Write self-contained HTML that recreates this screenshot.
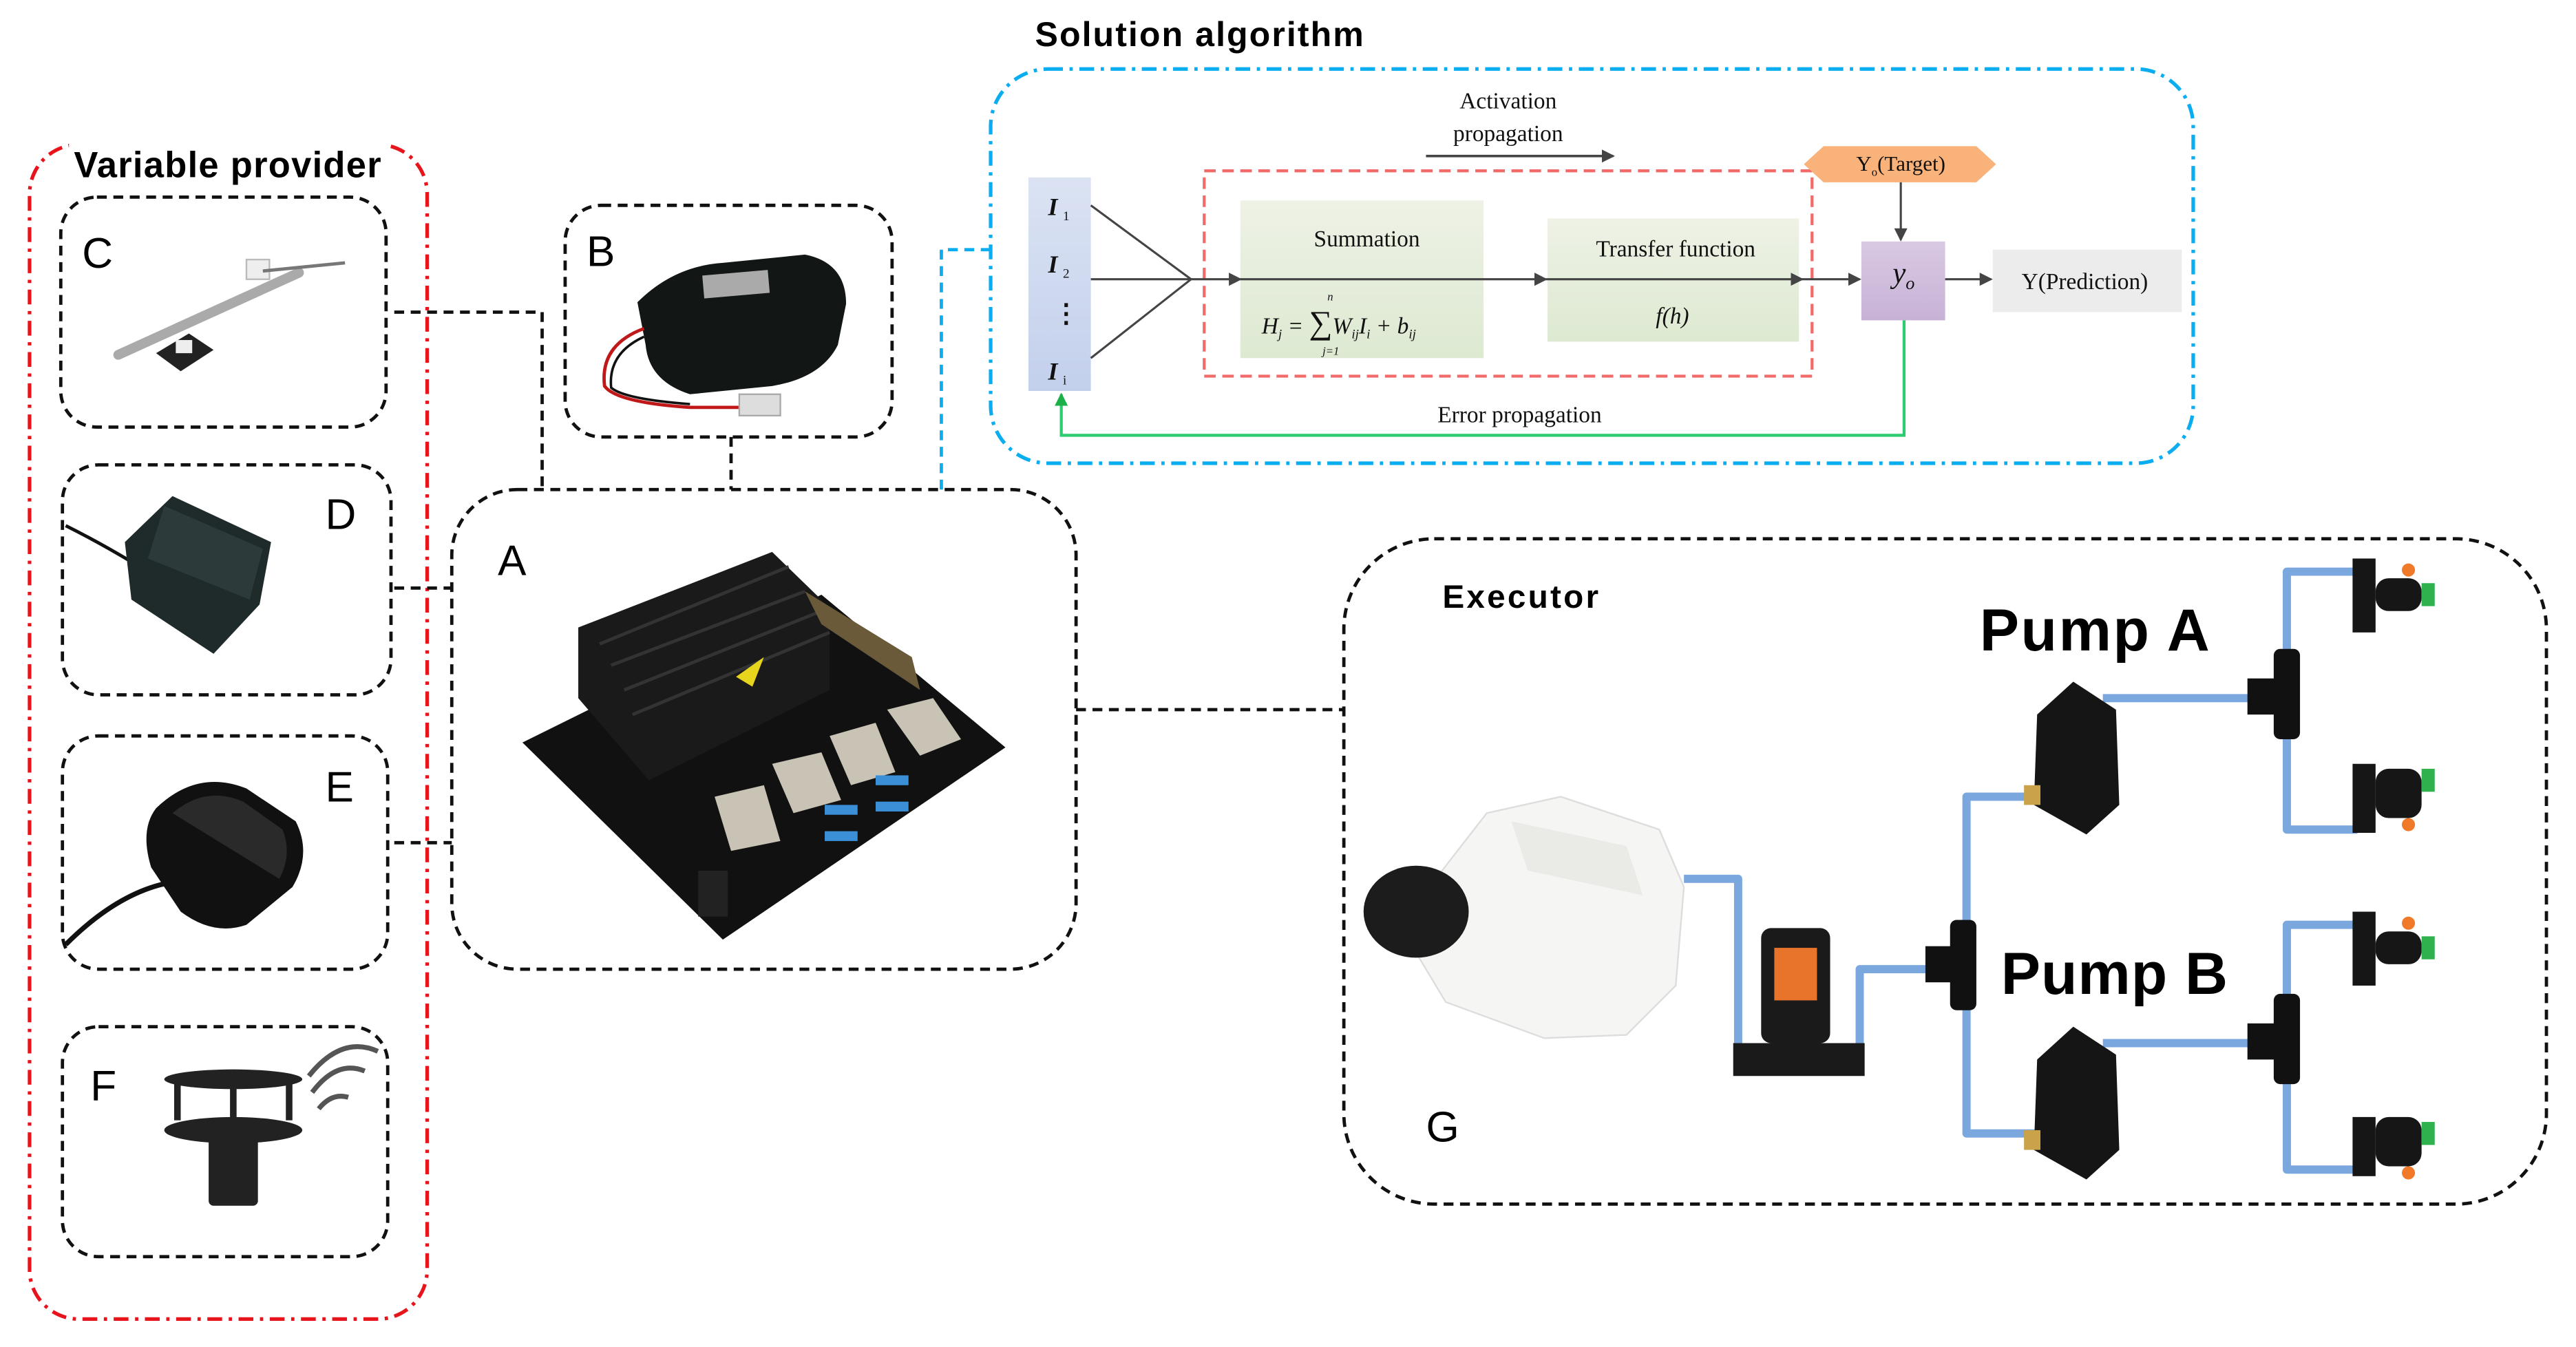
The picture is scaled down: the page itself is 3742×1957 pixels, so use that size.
<!DOCTYPE html>
<html><head><meta charset="utf-8"><style>
html,body{margin:0;padding:0;background:#fff;}
svg{display:block;}
</style></head><body>
<svg width="3742" height="1957" viewBox="0 0 1568 820" preserveAspectRatio="none" xmlns="http://www.w3.org/2000/svg" font-family="Liberation Sans, sans-serif">
<defs>
<marker id="ar" markerWidth="8" markerHeight="8" refX="7" refY="4" orient="auto" markerUnits="userSpaceOnUse"><path d="M0,0 L8,4 L0,8 z" fill="#444"/></marker>
<marker id="ag" markerWidth="8" markerHeight="8" refX="7" refY="4" orient="auto" markerUnits="userSpaceOnUse"><path d="M0,0 L8,4 L0,8 z" fill="#1cb04a"/></marker>
<linearGradient id="gb" x1="0" y1="0" x2="0" y2="1"><stop offset="0" stop-color="#dbe3f3"/><stop offset="1" stop-color="#c3d0ec"/></linearGradient>
<linearGradient id="gg" x1="0" y1="0" x2="0" y2="1"><stop offset="0" stop-color="#eef2e6"/><stop offset="1" stop-color="#dde9d1"/></linearGradient>
<linearGradient id="gp" x1="0" y1="0" x2="0" y2="1"><stop offset="0" stop-color="#d9c9e3"/><stop offset="1" stop-color="#c7b2d6"/></linearGradient>
</defs>

<!-- Variable provider -->
<rect x="18" y="88" width="242" height="715" rx="30" fill="none" stroke="#e8141c" stroke-width="2.2" stroke-dasharray="9,4,2,4"/>
<rect x="42" y="86" width="194" height="24" fill="#fff"/>
<text x="45" y="108" font-size="22" font-weight="bold" textLength="187">Variable provider</text>

<g fill="none" stroke="#111" stroke-width="2" stroke-dasharray="6,4">
<rect x="37" y="120" width="198" height="140" rx="22"/>
<rect x="38" y="283" width="200" height="140" rx="22"/>
<rect x="38" y="448" width="198" height="142" rx="22"/>
<rect x="38" y="625" width="198" height="140" rx="22"/>
<rect x="344" y="125" width="199" height="141" rx="22"/>
<rect x="275" y="298" width="380" height="292" rx="40"/>
<rect x="818" y="328" width="732" height="405" rx="55"/>
<path d="M240,190 H330 V298"/>
<path d="M240,358 H275"/>
<path d="M240,513 H275"/>
<path d="M445,266 V298"/>
<path d="M655,432 H818"/>
</g>
<path d="M573,298 V152 H603" fill="none" stroke="#0aaef0" stroke-width="2" stroke-dasharray="6,4"/>

<g font-size="26" fill="#000">
<text x="50" y="163">C</text>
<text x="198" y="322">D</text>
<text x="198" y="488">E</text>
<text x="55" y="670">F</text>
<text x="357" y="162">B</text>
<text x="303" y="350">A</text>
<text x="868" y="695">G</text>
</g>

<!-- C sensor -->
<g>
<path d="M72,216 L182,166" stroke="#aaa" stroke-width="6" stroke-linecap="round"/>
<rect x="150" y="158" width="14" height="12" fill="#eee" stroke="#bbb"/>
<path d="M160,165 L210,160" stroke="#777" stroke-width="2"/>
<path d="M95,215 L115,203 L130,213 L110,226 z" fill="#222"/>
<rect x="107" y="207" width="10" height="8" fill="#eee"/>
</g>
<!-- D box -->
<path d="M40,320 Q60,330 80,342" stroke="#111" stroke-width="2" fill="none"/>
<path d="M76,330 L105,302 L165,330 L158,368 L130,398 L80,365 z" fill="#1f2a2a"/>
<path d="M100,308 L160,334 L152,365 L90,340 z" fill="#2c3a3a"/>
<!-- E gps -->
<path d="M40,575 Q70,545 100,538" stroke="#111" stroke-width="3" fill="none"/>
<path d="M95,492 Q120,468 150,480 L180,500 Q190,520 178,540 L150,563 Q130,570 110,555 L92,528 Q85,505 95,492 z" fill="#111"/>
<path d="M105,495 Q125,478 148,488 L172,505 Q178,520 170,535 Z" fill="#2a2a2a"/>
<!-- F anemometer -->
<g fill="#222">
<ellipse cx="142" cy="657" rx="42" ry="6"/>
<rect x="106" y="657" width="4" height="25"/><rect x="174" y="657" width="4" height="25"/><rect x="140" y="657" width="4" height="25"/>
<ellipse cx="142" cy="688" rx="42" ry="8"/>
<rect x="127" y="690" width="30" height="44" rx="3"/>
</g>
<g fill="none" stroke="#555" stroke-width="3">
<path d="M194,675 Q202,665 212,668"/><path d="M190,665 Q205,645 222,652"/><path d="M188,655 Q208,630 230,640"/>
</g>
<!-- B battery -->
<path d="M388,184 Q410,162 440,160 L490,155 Q515,160 515,185 L510,210 Q500,230 470,235 L420,240 Q395,232 393,210 z" fill="#121614"/>
<rect x="428" y="166" width="40" height="14" fill="#aaa" transform="rotate(-5 448 173)"/>
<path d="M392,200 Q365,210 368,235 Q375,245 420,248 L455,248" fill="none" stroke="#c01818" stroke-width="2"/>
<path d="M392,205 Q370,215 372,236 Q380,243 420,246" fill="none" stroke="#111" stroke-width="1.5"/>
<rect x="450" y="240" width="25" height="13" fill="#ddd" stroke="#aaa"/>

<!-- A board -->
<path d="M318,452 L500,362 L612,455 L440,572 z" fill="#111"/>
<path d="M352,382 L470,336 L505,370 L505,420 L395,475 L352,425 z" fill="#1a1a1a"/>
<g stroke="#333" stroke-width="2"><path d="M365,392 L480,345"/><path d="M372,405 L490,360"/><path d="M380,420 L500,372"/><path d="M385,435 L505,385"/></g>
<path d="M448,412 L465,400 L458,418 z" fill="#e6d51c"/>
<path d="M490,360 L555,400 L560,420 L500,380 z" fill="#6a5a3a"/>
<g fill="#c9c3b5">
<path d="M540,432 L568,425 L585,450 L560,460 z"/>
<path d="M505,448 L533,440 L545,470 L518,478 z"/>
<path d="M470,465 L500,458 L512,487 L483,495 z"/>
<path d="M435,485 L465,478 L475,512 L445,518 z"/>
</g>
<g fill="#3a8fd6"><rect x="533" y="472" width="20" height="6"/><rect x="502" y="490" width="20" height="6"/><rect x="533" y="488" width="20" height="6"/><rect x="502" y="506" width="20" height="6"/></g>
<rect x="425" y="530" width="18" height="28" fill="#222"/>

<!-- Solution algorithm -->
<rect x="603" y="42" width="732" height="240" rx="35" fill="none" stroke="#0aaef0" stroke-width="2.2" stroke-dasharray="9,4,2,4"/>
<text x="630" y="28" font-size="21" font-weight="bold" textLength="200">Solution algorithm</text>
<g font-family="Liberation Serif, serif" fill="#111">
<text x="918" y="66" font-size="14" text-anchor="middle">Activation</text>
<text x="918" y="86" font-size="14" text-anchor="middle">propagation</text>
<line x1="868" y1="95" x2="982" y2="95" stroke="#444" stroke-width="1.5" marker-end="url(#ar)"/>
<rect x="626" y="108" width="38" height="130" fill="url(#gb)"/>
<text x="638" y="131" font-size="15" font-style="italic" font-weight="bold">I</text><text x="647" y="134" font-size="8">1</text>
<text x="638" y="166" font-size="15" font-style="italic" font-weight="bold">I</text><text x="647" y="169" font-size="8">2</text>
<text x="641" y="196" font-size="16" font-weight="bold">⋮</text>
<text x="638" y="231" font-size="15" font-style="italic" font-weight="bold">I</text><text x="647" y="234" font-size="8">i</text>
<rect x="733" y="104" width="370" height="125" fill="none" stroke="#f26b6b" stroke-width="1.8" stroke-dasharray="7,4"/>
<rect x="755" y="122" width="148" height="96" fill="url(#gg)"/>
<rect x="942" y="133" width="153" height="75" fill="url(#gg)"/>
<text x="832" y="150" font-size="14" text-anchor="middle">Summation</text>
<text x="768" y="203" font-size="14" font-style="italic">H<tspan font-size="8" dy="3">j</tspan><tspan dy="-3"> = </tspan><tspan font-size="20" font-style="normal">∑</tspan>W<tspan font-size="8" dy="3">ij</tspan><tspan dy="-3">I</tspan><tspan font-size="8" dy="3">i</tspan><tspan dy="-3"> + b</tspan><tspan font-size="8" dy="3">ij</tspan></text>
<text x="808" y="183" font-size="7" font-style="italic">n</text>
<text x="805" y="216" font-size="7" font-style="italic">j=1</text>
<text x="1020" y="156" font-size="14" text-anchor="middle">Transfer function</text>
<text x="1018" y="197" font-size="14" font-style="italic" text-anchor="middle">f(h)</text>
<polygon points="1098,100 1110,89 1203,89 1215,100 1203,111 1110,111" fill="#f8b27a"/>
<text x="1157" y="104" font-size="13" text-anchor="middle">Y<tspan font-size="7" dy="3">o</tspan><tspan dy="-3">(Target)</tspan></text>
<rect x="1133" y="147" width="51" height="48" fill="url(#gp)"/>
<text x="1152" y="172" font-size="18" font-style="italic">y<tspan font-size="11" dy="4">o</tspan></text>
<rect x="1213" y="152" width="115" height="38" fill="#ececec"/>
<text x="1269" y="176" font-size="14" text-anchor="middle">Y(Prediction)</text>
<text x="925" y="257" font-size="14" text-anchor="middle">Error propagation</text>
</g>
<g stroke="#444" stroke-width="1.3" fill="none">
<path d="M664,125 L725,170 L664,218"/>
<line x1="664" y1="170" x2="755" y2="170" marker-end="url(#ar)"/>
<line x1="755" y1="170" x2="941" y2="170" marker-end="url(#ar)"/>
<line x1="941" y1="170" x2="1097" y2="170" marker-end="url(#ar)"/>
<line x1="1097" y1="170" x2="1132" y2="170" marker-end="url(#ar)"/>
<line x1="1184" y1="170" x2="1212" y2="170" marker-end="url(#ar)"/>
<line x1="1157" y1="111" x2="1157" y2="146" marker-end="url(#ar)"/>
</g>
<path d="M1159,195 V265 H646 V240" fill="none" stroke="#2ecc71" stroke-width="1.8" marker-end="url(#ag)"/>

<!-- Executor -->
<text x="878" y="370" font-size="20" font-weight="bold" textLength="95">Executor</text>
<text x="1205" y="396" font-size="36" font-weight="bold" textLength="140">Pump A</text>
<text x="1218" y="605" font-size="36" font-weight="bold" textLength="138">Pump B</text>
<g fill="none" stroke="#7ba7df" stroke-width="5" stroke-linejoin="round">
<path d="M1025,535 H1058 V640"/>
<path d="M1132,640 V590 H1185"/>
<path d="M1240,485 H1197 V690 H1240"/>
<path d="M1280,425 H1375"/>
<path d="M1280,635 H1375"/>
<path d="M1435,348 H1392 V505 H1435"/>
<path d="M1435,563 H1392 V712 H1435"/>
</g>
<!-- tank -->
<path d="M870,540 L905,495 L950,485 L1010,505 L1025,540 L1020,600 L990,630 L940,632 L880,610 L862,580 z" fill="#f5f5f3" stroke="#ddd"/>
<path d="M920,500 L990,515 L1000,545 L930,530 z" fill="#eaeae6"/>
<ellipse cx="862" cy="555" rx="32" ry="28" fill="#1c1c1c"/>
<!-- small pump -->
<rect x="1072" y="565" width="42" height="70" rx="6" fill="#1a1a1a"/>
<rect x="1080" y="577" width="26" height="32" fill="#e8732a"/>
<path d="M1055,635 H1135 V655 H1055 z" fill="#1a1a1a"/>
<!-- T fittings -->
<g fill="#111">
<rect x="1187" y="560" width="16" height="55" rx="4"/><rect x="1172" y="576" width="20" height="22"/>
<rect x="1384" y="395" width="16" height="55" rx="4"/><rect x="1368" y="413" width="20" height="22"/>
<rect x="1384" y="605" width="16" height="55" rx="4"/><rect x="1368" y="623" width="20" height="22"/>
</g>
<!-- pumps A/B -->
<g fill="#151515">
<path d="M1240,435 L1262,415 L1288,432 L1290,490 L1270,508 L1238,490 z"/>
<path d="M1240,645 L1262,625 L1288,642 L1290,700 L1270,718 L1238,700 z"/>
</g>
<rect x="1232" y="478" width="10" height="12" fill="#c9a24a"/>
<rect x="1232" y="688" width="10" height="12" fill="#c9a24a"/>
<!-- nozzles -->
<g fill="#161616">
<rect x="1432" y="340" width="14" height="45"/><rect x="1446" y="352" width="28" height="20" rx="8"/>
<rect x="1432" y="465" width="14" height="42"/><rect x="1446" y="468" width="28" height="30" rx="8"/>
<rect x="1432" y="555" width="14" height="45"/><rect x="1446" y="567" width="28" height="20" rx="8"/>
<rect x="1432" y="680" width="14" height="36"/><rect x="1446" y="680" width="28" height="30" rx="8"/>
</g>
<g fill="#2fb24d"><rect x="1474" y="355" width="8" height="14"/><rect x="1474" y="468" width="8" height="14"/><rect x="1474" y="570" width="8" height="14"/><rect x="1474" y="683" width="8" height="14"/></g>
<g fill="#f07a2a"><circle cx="1466" cy="347" r="4"/><circle cx="1466" cy="502" r="4"/><circle cx="1466" cy="562" r="4"/><circle cx="1466" cy="714" r="4"/></g>
</svg>
</body></html>
